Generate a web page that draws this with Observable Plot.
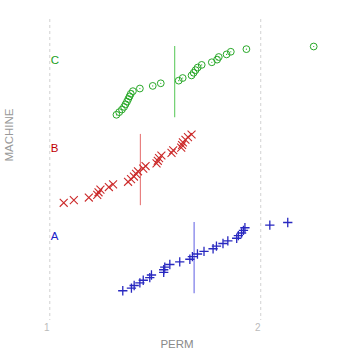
<!DOCTYPE html>
<html>
<head>
<meta charset="utf-8">
<script src="https://cdn.jsdelivr.net/npm/d3@7"></script>
<script src="https://cdn.jsdelivr.net/npm/@observablehq/plot@0.6"></script>
<style>
  html, body { margin: 0; padding: 0; background: #fff; }
  #chart svg { display: block; }
</style>
</head>
<body>
<div id="chart"></div>
<script>
const machines = ["A", "B", "C"];
const permA = [1.346, 1.387, 1.400, 1.427, 1.443, 1.474, 1.482, 1.540, 1.540, 1.545, 1.569, 1.616, 1.664, 1.676, 1.700, 1.731, 1.774, 1.790, 1.821, 1.844, 1.886, 1.894, 1.909, 1.918, 1.925, 2.043, 2.128];
const permB = [1.066, 1.114, 1.185, 1.225, 1.231, 1.240, 1.280, 1.300, 1.371, 1.385, 1.399, 1.409, 1.418, 1.443, 1.454, 1.506, 1.512, 1.518, 1.529, 1.577, 1.585, 1.623, 1.627, 1.631, 1.643, 1.655, 1.672];
const permC = [1.316, 1.329, 1.342, 1.352, 1.359, 1.366, 1.372, 1.378, 1.384, 1.394, 1.427, 1.488, 1.526, 1.611, 1.630, 1.672, 1.682, 1.691, 1.701, 1.720, 1.768, 1.793, 1.801, 1.838, 1.858, 1.932, 2.251];
const xTicks = [1, 2];
const xLabel = "PERM";
const yLabel = "MACHINE";

const series = [permA, permB, permC];
const pointColors = ["#2828c0", "#cc2a2a", "#28a828"];
const ruleColors = ["#7878e8", "#e88080", "#70d070"];
const labelColors = ["#2020c8", "#c00000", "#20a020"];

// rows: y within each band follows the rank of the value
const rows = [];
series.forEach((vals, g) => {
  const sorted = vals.slice().sort((a, b) => a - b);
  const n = sorted.length;
  sorted.forEach((v, i) => {
    rows.push({machine: machines[g], g, perm: v, y: g - 0.617 + 0.776 * i / (n - 1)});
  });
});
const means = series.map((vals, g) => ({machine: machines[g], g, mean: d3.mean(vals)}));
const byM = m => rows.filter(r => r.machine === m);

const chart = Plot.plot({
  width: 357,
  height: 357,
  marginTop: 19,
  marginBottom: 37,
  marginLeft: 28.2,
  marginRight: 32.2,
  style: {fontFamily: "'Liberation Sans', Arial, sans-serif", background: "#fff"},
  x: {domain: [0.9, 2.306]},
  y: {domain: [-0.955, 2.466], axis: null},
  marks: [
    Plot.gridX(xTicks, {stroke: "#d2d2d2", strokeOpacity: 1, strokeDasharray: "3,3"}),
    Plot.axisX(xTicks, {tickSize: 0, tickPadding: 3, dx: -3, fill: "#bbbbbb", fontSize: 10,
      tickFormat: d3.format("d"), label: null}),
    Plot.ruleX(means, {x: "mean", y1: d => d.g - 0.65, y2: d => d.g + 0.16, stroke: d => ruleColors[d.g], strokeWidth: 1.2}),
    Plot.dot(byM("A"), {x: "perm", y: "y", symbol: "plus", r: 3.1, stroke: pointColors[0], strokeWidth: 1.3}),
    Plot.dot(byM("B"), {x: "perm", y: "y", symbol: "times", r: 3.7, stroke: pointColors[1], strokeWidth: 1.1}),
    Plot.dot(byM("C"), {x: "perm", y: "y", symbol: "circle", r: 3.4, stroke: pointColors[2], strokeWidth: 1, fill: "none"}),
    Plot.dot(byM("C"), {x: "perm", y: "y", r: 0.6, fill: pointColors[2], stroke: "none"}),
    Plot.text(machines, {x: () => 1, y: (d, i) => i, text: d => d, textAnchor: "start", dx: 1,
      fill: (d, i) => labelColors[i], fontSize: 11.5}),
    Plot.text([xLabel], {frameAnchor: "bottom", text: d => d, textAnchor: "middle", lineAnchor: "middle",
      dy: 24, fill: "#8a8a8a", fontSize: 11.5}),
    Plot.text([yLabel], {frameAnchor: "left", text: d => d, rotate: -90, textAnchor: "middle", lineAnchor: "middle",
      dx: -19.5, dy: -35, fill: "#999999", fontSize: 11.5})
  ]
});
document.getElementById("chart").appendChild(chart);
</script>
</body>
</html>
